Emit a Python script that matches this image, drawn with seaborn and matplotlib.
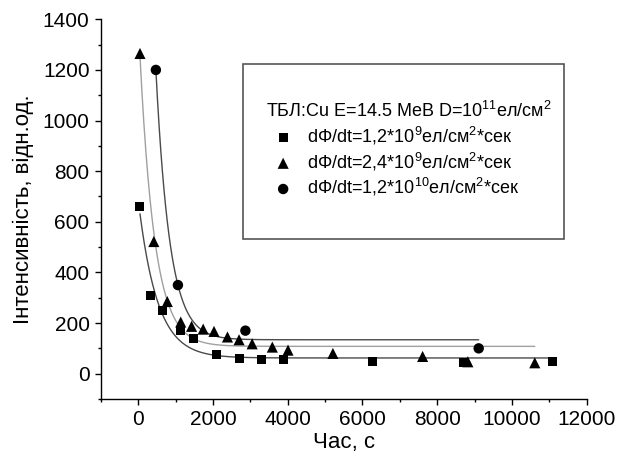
import numpy as np
import pandas as pd
import seaborn as sns
import matplotlib.pyplot as plt
from matplotlib.patches import Rectangle
from matplotlib.ticker import MultipleLocator

# time (s) and intensity
t_sq = [50, 340, 650, 1130, 1490, 2090, 2700, 3290, 3880, 6280, 8710, 11090]
i_sq = [660, 310, 250, 170, 140, 75, 60, 55, 55, 50, 45, 50]

t_tri = [50, 420, 780, 1140, 1430, 1740, 2030, 2390, 2700, 3050, 3590, 4010, 5210, 7610, 8820, 10610]
i_tri = [1265, 522, 285, 204, 187, 176, 167, 145, 134, 118, 105, 93, 80, 68, 47, 43]

t_circ = [475, 1065, 2870, 9110]
i_circ = [1200, 350, 170, 100]

title_txt = 'ТБЛ:Cu E=14.5 МеВ D=10$\\mathregular{^{11}}$ел/см$\\mathregular{^2}$'
labels = ['dΦ/dt=1,2*10$\\mathregular{^9}$ел/см$\\mathregular{^2}$*сек',
          'dΦ/dt=2,4*10$\\mathregular{^9}$ел/см$\\mathregular{^2}$*сек',
          'dΦ/dt=1,2*10$\\mathregular{^{10}}$ел/см$\\mathregular{^2}$*сек']


# exponential decay fit y = y0 + A*exp(-t/tau), tau by grid search
def exp_fit(t, y):
    t = np.array(t, dtype=float)
    y = np.array(y, dtype=float)
    best = None
    for tau in np.linspace(50, 3000, 600):
        X = np.column_stack([np.ones_like(t), np.exp(-t / tau)])
        coef, *_ = np.linalg.lstsq(X, y, rcond=None)
        err = np.sum((X @ coef - y) ** 2)
        if best is None or err < best[0]:
            best = (err, tau, coef)
    _, tau, coef = best
    tt = np.linspace(t.min(), t.max(), 400)
    return tt, coef[0] + coef[1] * np.exp(-tt / tau)


sns.set_theme(style='ticks')
plt.rcParams['font.family'] = ['Liberation Sans', 'DejaVu Sans']
plt.rcParams['mathtext.fontset'] = 'custom'
plt.rcParams['mathtext.rm'] = 'Liberation Sans'
plt.rcParams['text.color'] = 'black'
plt.rcParams['axes.labelcolor'] = 'black'
plt.rcParams['xtick.color'] = 'black'
plt.rcParams['ytick.color'] = 'black'

fig = plt.figure(figsize=(6.28, 4.66), dpi=100)
ax = fig.add_axes([0.1604, 0.1438, 0.7739, 0.8148])

series = [(t_sq, i_sq, 's', 6.5, '#4a4a4a'),
          (t_tri, i_tri, '^', 8, '#a0a0a0'),
          (t_circ, i_circ, 'o', 7.5, '#4a4a4a')]

for (t, y, m, ms, lc), lab in zip(series, labels):
    tt, yy = exp_fit(t, y)
    ax.plot(tt, yy, color=lc, lw=1.0, zorder=1)
    df = pd.DataFrame({'t': t, 'y': y})
    sns.scatterplot(data=df, x='t', y='y', marker=m, s=ms ** 2, color='black',
                    edgecolor='none', ax=ax, label=lab, zorder=3)

ax.set_xlim(-1000, 12000)
ax.set_ylim(-100, 1400)
ax.xaxis.set_major_locator(MultipleLocator(2000))
ax.xaxis.set_minor_locator(MultipleLocator(1000))
ax.yaxis.set_major_locator(MultipleLocator(200))
ax.yaxis.set_minor_locator(MultipleLocator(100))
ax.tick_params(which='major', direction='out', length=4.5, width=1, labelsize=15, colors='black')
ax.tick_params(which='minor', direction='out', length=2.5, width=1, colors='black')
for s in ['left', 'bottom']:
    ax.spines[s].set_linewidth(1.0)
    ax.spines[s].set_color('black')
sns.despine(ax=ax)

ax.set_xlabel('Час, с', fontsize=16, labelpad=2)
ax.set_ylabel('Інтенсивність, відн.од.', fontsize=16, labelpad=6)

# legend box
fig.patches.append(Rectangle((0.3865, 0.4865), 0.5121, 0.3762, transform=fig.transFigure,
                             fill=False, edgecolor='#555555', lw=1.2))
leg = ax.legend(title=title_txt, loc='upper left', bbox_to_anchor=(266 / 628, 1 - 101 / 466),
                bbox_transform=fig.transFigure, frameon=False, fontsize=13, title_fontsize=13,
                borderpad=0, handlelength=1.9, handletextpad=0.35, labelspacing=0.2,
                alignment='left', borderaxespad=0)

fig.savefig('out.png', dpi=100)
